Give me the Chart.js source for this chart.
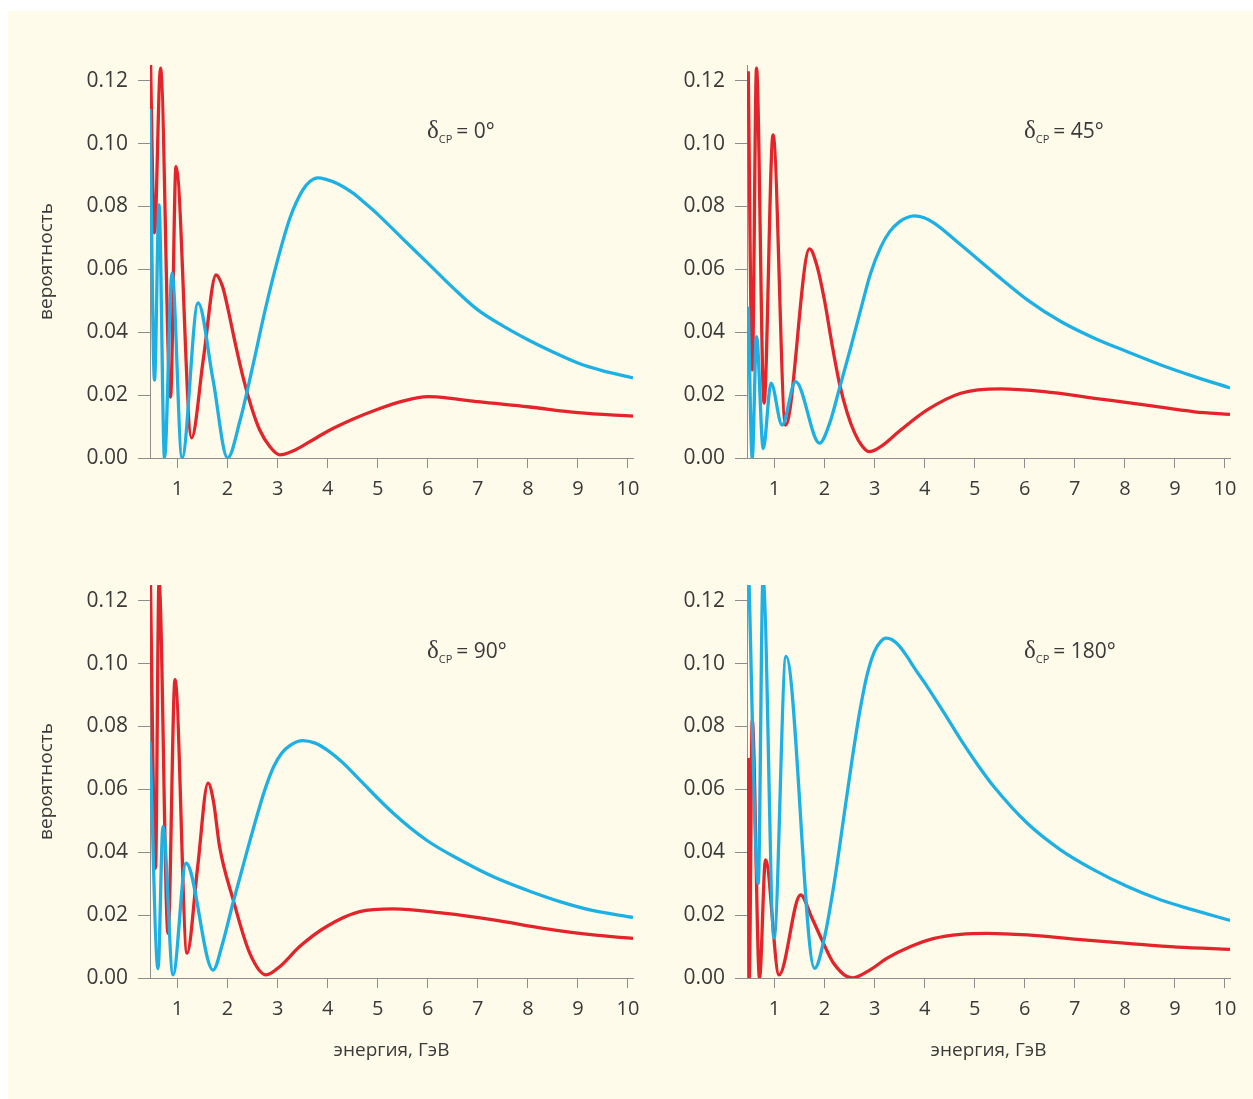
<!DOCTYPE html>
<html>
<head>
<meta charset="utf-8">
<script src="https://cdn.jsdelivr.net/npm/chart.js@4.4.1/dist/chart.umd.min.js"></script>
<style>
html,body{margin:0;padding:0;background:#ffffff;}
body{width:1253px;height:1099px;position:relative;overflow:hidden;}
#bg{position:absolute;left:8px;top:11px;right:0;bottom:0;background:#fefbea;}
canvas{position:absolute;}
</style>
</head>
<body>
<div id="bg"></div>
<canvas id="c0" width="656" height="520" style="left:0px;top:0px"></canvas>
<canvas id="c2" width="656" height="579" style="left:0px;top:520px"></canvas>
<canvas id="c1" width="613" height="520" style="left:640px;top:0px"></canvas>
<canvas id="c3" width="613" height="579" style="left:640px;top:520px"></canvas>
<script>
// ---- data (energy in GeV, probability) ----
const X_TICKS = [1,2,3,4,5,6,7,8,9,10];
const Y_TICKS = [0.00,0.02,0.04,0.06,0.08,0.10,0.12];
const DELTAS = ['0', '45', '90', '180'];

// δCP = 0°
const E_TL_RED  = [0.45,0.54,0.66,0.86,0.97,1.28,1.52,1.77,1.9,2.0,2.16,2.32,2.48,2.64,2.85,3.04,3.3,3.6,4.0,4.5,5.0,5.5,6.0,6.5,7.0,8.0,9.0,10.1];
const P_TL_RED  = [0.135,0.0716,0.124,0.0194,0.0927,0.0064,0.032,0.0582,0.0545,0.048,0.036,0.025,0.016,0.009,0.0035,0.001,0.0022,0.0048,0.0085,0.0123,0.0155,0.0181,0.0195,0.0189,0.0179,0.0163,0.0144,0.0133];
const E_TL_BLUE = [0.45,0.54,0.63,0.74,0.89,1.09,1.41,1.71,2.0,2.25,2.5,2.75,3.0,3.25,3.5,3.65,3.8,3.95,4.2,4.5,4.75,5.0,5.5,6.0,6.5,7.0,7.5,8.0,8.5,9.0,9.5,10.1];
const P_TL_BLUE = [0.111,0.0248,0.0805,0.0,0.0588,0.0,0.0493,0.0248,0.0,0.012,0.029,0.047,0.063,0.0765,0.0852,0.0880,0.0891,0.0887,0.0872,0.0843,0.0810,0.0775,0.0697,0.062,0.0542,0.0471,0.042,0.0376,0.0337,0.0302,0.0277,0.0255];

// δCP = 45°
const E_TR_RED  = [0.475,0.555,0.64,0.79,0.97,1.22,1.70,1.85,2.0,2.15,2.30,2.45,2.6,2.75,2.89,3.12,3.52,4.05,4.72,5.52,6.39,7.39,8.39,9.39,10.1];
const P_TR_RED  = [0.123,0.028,0.124,0.0175,0.1028,0.0105,0.0665,0.061,0.050,0.036,0.0235,0.0145,0.008,0.0038,0.002,0.0036,0.0089,0.0153,0.0206,0.0220,0.0211,0.0190,0.0169,0.0147,0.0139];
const E_TR_BLUE = [0.475,0.555,0.64,0.775,0.93,1.15,1.42,1.90,2.1,2.30,2.52,2.72,2.92,3.12,3.3,3.5,3.65,3.79,3.99,4.19,4.72,5.39,6.05,6.72,7.39,8.05,8.72,9.39,10.1];
const P_TR_BLUE = [0.0482,0.0,0.0386,0.003,0.0238,0.0105,0.0243,0.0047,0.011,0.0223,0.035,0.0471,0.0588,0.0670,0.0720,0.0752,0.0765,0.0770,0.0764,0.0747,0.0678,0.0588,0.0503,0.0434,0.0381,0.0338,0.0296,0.0259,0.0223];

// δCP = 90°
const E_BL_RED  = [0.45,0.56,0.63,0.81,0.95,1.19,1.40,1.61,1.72,1.84,2.11,2.44,2.77,3.04,3.44,3.97,4.64,5.31,6.31,7.31,8.31,9.31,10.1];
const P_BL_RED  = [0.135,0.0349,0.126,0.0142,0.0949,0.0079,0.035,0.062,0.056,0.0418,0.025,0.008,0.001,0.0036,0.0100,0.0163,0.0211,0.0220,0.0206,0.0185,0.0158,0.0137,0.0126];
const E_BL_BLUE = [0.45,0.61,0.71,0.91,1.17,1.71,1.9,2.11,2.40,2.64,2.78,2.92,3.08,3.25,3.5,3.75,4.0,4.3,4.64,5.31,5.97,6.64,7.31,7.97,8.64,9.31,10.1];
const P_BL_BLUE = [0.0752,0.003,0.0482,0.001,0.0365,0.0025,0.011,0.024,0.041,0.0545,0.0615,0.0672,0.0715,0.0740,0.0755,0.0747,0.0724,0.0685,0.0630,0.0524,0.0439,0.0376,0.0322,0.0280,0.0243,0.0214,0.0193];

// δCP = 180°
const E_BR_RED  = [0.475,0.495,0.555,0.70,0.82,1.09,1.52,1.75,1.95,2.18,2.55,2.9,3.25,3.72,4.19,4.72,5.25,6.05,7.05,8.05,9.05,10.1];
const P_BR_RED  = [0.07,0.0,0.082,0.0,0.0376,0.001,0.0264,0.019,0.012,0.0047,0.0,0.0025,0.0063,0.0100,0.0126,0.0139,0.0142,0.0137,0.0123,0.0110,0.0098,0.0091];
const E_BR_BLUE = [0.475,0.675,0.77,0.99,1.23,1.80,2.0,2.2,2.4,2.55,2.7,2.85,3.0,3.12,3.22,3.35,3.5,3.65,3.8,4.05,4.4,4.72,5.05,5.38,6.05,6.72,7.38,8.05,8.72,9.38,10.1];
const P_BR_BLUE = [0.135,0.030,0.127,0.0127,0.1023,0.0031,0.013,0.031,0.053,0.0695,0.0845,0.0965,0.1040,0.1070,0.1081,0.1076,0.1055,0.1022,0.0985,0.0927,0.084,0.0758,0.068,0.0609,0.0492,0.0407,0.0344,0.0291,0.0248,0.0216,0.0183];

const Y_TITLE = 'вероятность';
const X_TITLE = 'энергия, ГэВ';

// ---- styling ----
const RED = '#e3242b';
const BLUE = '#1cb0e4';
const AXIS = '#8e8e8e';
const TEXT = '#3a3a3a';
Chart.defaults.font.family = "'Open Sans', 'Noto Sans', sans-serif";

const deltaPlugin = {
  id: 'deltaLabel',
  afterDraw(chart, args, opts) {
    const {ctx, chartArea} = chart;
    const x0 = chartArea.left + opts.dx;
    const y0 = chartArea.top + opts.dy;
    ctx.save();
    ctx.fillStyle = TEXT;
    ctx.textBaseline = 'alphabetic';
    ctx.textAlign = 'left';
    ctx.font = "25px 'Liberation Serif', 'DejaVu Serif', serif";
    ctx.fillText('δ', x0, y0);
    let x = x0 + ctx.measureText('δ').width;
    ctx.font = "11px 'Open Sans', sans-serif";
    ctx.fillText('CP', x, y0 + 5);
    x += ctx.measureText('CP').width + 4;
    ctx.font = "21px 'Open Sans', sans-serif";
    ctx.fillText('= ' + opts.value + '°', x, y0);
    ctx.restore();
  }
};

function pts(xs, ys) { return xs.map((x, i) => ({x: x, y: ys[i]})); }

function makePanel(id, cfg) {
  const ctx = document.getElementById(id);
  return new Chart(ctx, {
    type: 'line',
    data: {
      datasets: [
        {label: 'blue', data: pts(cfg.bx, cfg.by), borderColor: BLUE, borderWidth: 3.3,
         pointRadius: 0, cubicInterpolationMode: 'monotone', fill: false},
        {label: 'red', data: pts(cfg.rx, cfg.ry), borderColor: RED, borderWidth: 3.3,
         pointRadius: 0, cubicInterpolationMode: 'monotone', fill: false}
      ]
    },
    options: {
      responsive: false,
      animation: false,
      events: [],
      layout: {padding: {left: cfg.padLeft, right: cfg.padRight, top: 65, bottom: 0}},
      plugins: {
        legend: {display: false},
        tooltip: {enabled: false},
        deltaLabel: {dx: 277, dy: 73, value: cfg.delta}
      },
      scales: {
        x: {
          type: 'linear', min: 0.45, max: 10.1, bounds: 'data',
          afterFit: s => { s.height = cfg.xHeight; },
          afterBuildTicks: s => { s.ticks = X_TICKS.map(v => ({value: v})); },
          ticks: {color: TEXT, font: {size: 20}, padding: 9, maxRotation: 0, autoSkip: false,
                  callback: v => String(v)},
          grid: {drawOnChartArea: false, drawTicks: true, tickLength: 10, color: AXIS, lineWidth: 1},
          border: {display: true, color: AXIS, width: 1},
          title: {display: cfg.xTitle, text: X_TITLE, color: TEXT, font: {size: 19},
                  padding: {top: 0, bottom: 37}}
        },
        y: {
          type: 'linear', min: 0, max: 0.125, bounds: 'data',
          afterFit: s => { s.width = cfg.yWidth; },
          afterBuildTicks: s => { s.ticks = Y_TICKS.map(v => ({value: v})); },
          ticks: {color: TEXT, font: {size: 21}, padding: 10, callback: v => v.toFixed(2)},
          grid: {drawOnChartArea: false, drawTicks: true, tickLength: 12, color: AXIS, lineWidth: 1},
          border: {display: true, color: AXIS, width: 1},
          title: {display: cfg.yTitle, text: Y_TITLE, color: TEXT, font: {size: 19},
                  padding: {top: 5, bottom: 0}}
        }
      }
    },
    plugins: [deltaPlugin]
  });
}

makePanel('c0', {rx: E_TL_RED, ry: P_TL_RED, bx: E_TL_BLUE, by: P_TL_BLUE, delta: DELTAS[0],
  padLeft: 30, yWidth: 120, padRight: 23, xHeight: 62, yTitle: true, xTitle: false});
makePanel('c1', {rx: E_TR_RED, ry: P_TR_RED, bx: E_TR_BLUE, by: P_TR_BLUE, delta: DELTAS[1],
  padLeft: 0, yWidth: 107, padRight: 23, xHeight: 62, yTitle: false, xTitle: false});
makePanel('c2', {rx: E_BL_RED, ry: P_BL_RED, bx: E_BL_BLUE, by: P_BL_BLUE, delta: DELTAS[2],
  padLeft: 30, yWidth: 120, padRight: 23, xHeight: 121, yTitle: true, xTitle: true});
makePanel('c3', {rx: E_BR_RED, ry: P_BR_RED, bx: E_BR_BLUE, by: P_BR_BLUE, delta: DELTAS[3],
  padLeft: 0, yWidth: 107, padRight: 23, xHeight: 121, yTitle: false, xTitle: true});
</script>
</body>
</html>
